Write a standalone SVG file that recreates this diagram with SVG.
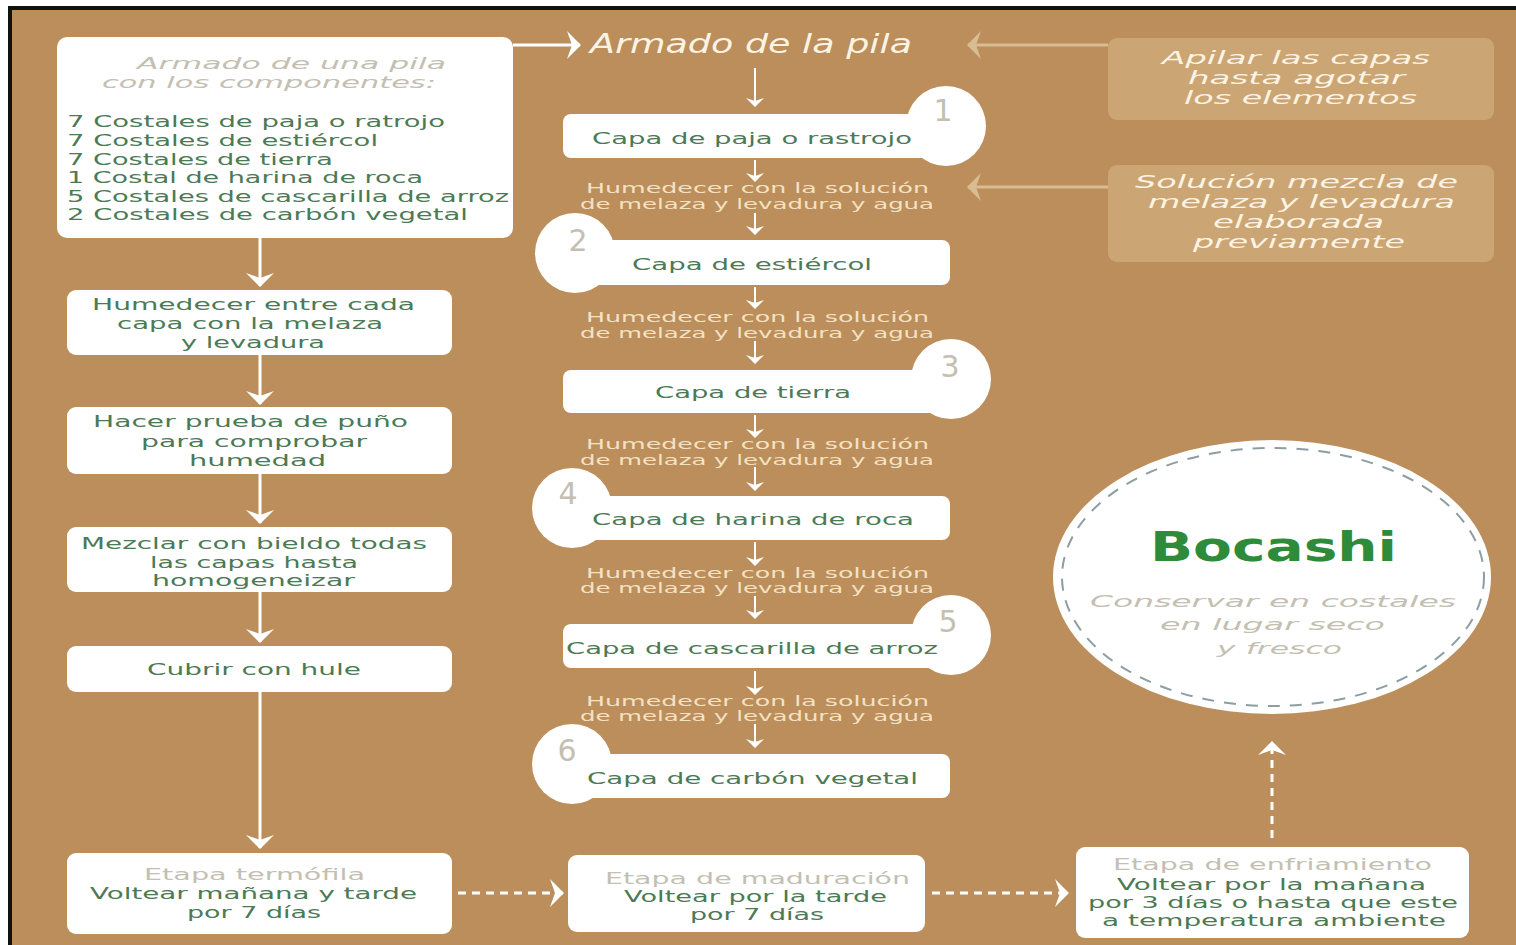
<svg xmlns="http://www.w3.org/2000/svg" width="1516" height="945" viewBox="0 0 1516 945">
<defs>
<style>
text{font-family:"DejaVu Sans","Liberation Sans",sans-serif}
.box{fill:#FFFFFF}
.g{fill:#4B7A55;font-size:16.5px}
.gb{fill:#4B7A55;font-size:15.5px}
.gt{fill:#C4BFB2;font-size:16.5px;font-style:italic}
.gs{fill:#C4BFB2;font-size:15.5px}
.hm{fill:#F3E2C4;font-size:13.5px}
.tan{fill:#CBA674}
.cr{fill:#FBF3E3;font-size:17.5px;font-style:italic}
.num{fill:#C4BFB2;font-size:30px;text-anchor:middle}
.w{stroke:#FFFFFF;stroke-width:3;fill:none}
.ws{stroke:#FFFFFF;stroke-width:2;fill:none}
.wd{stroke:#FFFFFF;stroke-width:3;fill:none;stroke-dasharray:8 6}
.tn{stroke:#D8BD92;stroke-width:3;fill:none}
</style>
<marker id="ab" viewBox="0 0 14 28" refX="13" refY="14" markerWidth="14" markerHeight="28" markerUnits="userSpaceOnUse" orient="auto">
<path d="M0,0 L14,14 L0,28 L5,14 z" fill="#FFFFFF"/>
</marker>
<marker id="as" viewBox="0 0 9 18" refX="8" refY="9" markerWidth="9" markerHeight="18" markerUnits="userSpaceOnUse" orient="auto">
<path d="M0,0 L9,9 L0,18 L3,9 z" fill="#FFFFFF"/>
</marker>
<marker id="at" viewBox="0 0 14 28" refX="13" refY="14" markerWidth="14" markerHeight="28" markerUnits="userSpaceOnUse" orient="auto">
<path d="M0,0 L14,14 L0,28 L5,14 z" fill="#D8BD92"/>
</marker>
</defs>
<rect x="0" y="0" width="1516" height="945" fill="#FFFFFF"/>
<rect x="10" y="8" width="1520" height="950" fill="#BB8E5B" stroke="#111111" stroke-width="4"/>

<g id="connectors">
<line class="w" x1="260" y1="238" x2="260" y2="286" marker-end="url(#ab)"/>
<line class="w" x1="260" y1="355" x2="260" y2="404" marker-end="url(#ab)"/>
<line class="w" x1="260" y1="474" x2="260" y2="523" marker-end="url(#ab)"/>
<line class="w" x1="260" y1="592" x2="260" y2="642" marker-end="url(#ab)"/>
<line class="w" x1="260" y1="692" x2="260" y2="848" marker-end="url(#ab)"/>
<line class="w" x1="513" y1="45" x2="580" y2="45" marker-end="url(#ab)"/>
<line class="tn" x1="1108" y1="45" x2="968" y2="45" marker-end="url(#at)"/>
<line class="tn" x1="1108" y1="187" x2="968" y2="187" marker-end="url(#at)"/>
<line class="ws" x1="755" y1="68" x2="755" y2="106" marker-end="url(#as)"/>
<line class="ws" x1="755" y1="160" x2="755" y2="181" marker-end="url(#as)"/>
<line class="ws" x1="755" y1="213" x2="755" y2="234" marker-end="url(#as)"/>
<line class="ws" x1="755" y1="287" x2="755" y2="308" marker-end="url(#as)"/>
<line class="ws" x1="755" y1="341" x2="755" y2="363" marker-end="url(#as)"/>
<line class="ws" x1="755" y1="415" x2="755" y2="437" marker-end="url(#as)"/>
<line class="ws" x1="755" y1="467" x2="755" y2="490" marker-end="url(#as)"/>
<line class="ws" x1="755" y1="542" x2="755" y2="565" marker-end="url(#as)"/>
<line class="ws" x1="755" y1="596" x2="755" y2="618" marker-end="url(#as)"/>
<line class="ws" x1="755" y1="671" x2="755" y2="694" marker-end="url(#as)"/>
<line class="ws" x1="755" y1="724" x2="755" y2="747" marker-end="url(#as)"/>
<line class="wd" x1="458" y1="893" x2="563" y2="893" marker-end="url(#ab)"/>
<line class="wd" x1="932" y1="893" x2="1068" y2="893" marker-end="url(#ab)"/>
<line class="wd" x1="1272" y1="838" x2="1272" y2="742" marker-end="url(#ab)" stroke-dasharray="8 8"/>
</g>

<g id="n-componentes">
<rect class="box" x="57" y="37" width="456" height="201" rx="10"/>
<text class="gt" x="137" y="69" textLength="309" lengthAdjust="spacingAndGlyphs">Armado de una pila</text>
<text class="gt" x="102" y="88" textLength="334" lengthAdjust="spacingAndGlyphs">con los componentes:</text>
<text class="g" x="67" y="127" textLength="378" lengthAdjust="spacingAndGlyphs">7 Costales de paja o ratrojo</text>
<text class="g" x="67" y="146" textLength="311" lengthAdjust="spacingAndGlyphs">7 Costales de estiércol</text>
<text class="g" x="67" y="165" textLength="266" lengthAdjust="spacingAndGlyphs">7 Costales de tierra</text>
<text class="g" x="67" y="183" textLength="356" lengthAdjust="spacingAndGlyphs">1 Costal de harina de roca</text>
<text class="g" x="67" y="202" textLength="442" lengthAdjust="spacingAndGlyphs">5 Costales de cascarilla de arroz</text>
<text class="g" x="67" y="220" textLength="401" lengthAdjust="spacingAndGlyphs">2 Costales de carbón vegetal</text>
</g>

<g id="n-humedecer">
<rect class="box" x="67" y="290" width="385" height="65" rx="9"/>
<text class="g" x="92" y="310" textLength="323" lengthAdjust="spacingAndGlyphs">Humedecer entre cada</text>
<text class="g" x="117" y="329" textLength="266" lengthAdjust="spacingAndGlyphs">capa con la melaza</text>
<text class="g" x="181" y="348" textLength="144" lengthAdjust="spacingAndGlyphs">y levadura</text>
</g>

<g id="n-prueba">
<rect class="box" x="67" y="407" width="385" height="67" rx="9"/>
<text class="g" x="93" y="427" textLength="315" lengthAdjust="spacingAndGlyphs">Hacer prueba de puño</text>
<text class="g" x="141" y="447" textLength="226" lengthAdjust="spacingAndGlyphs">para comprobar</text>
<text class="g" x="189" y="466" textLength="137" lengthAdjust="spacingAndGlyphs">humedad</text>
</g>

<g id="n-mezclar">
<rect class="box" x="67" y="527" width="385" height="65" rx="9"/>
<text class="g" x="81" y="549" textLength="346" lengthAdjust="spacingAndGlyphs">Mezclar con bieldo todas</text>
<text class="g" x="150" y="568" textLength="208" lengthAdjust="spacingAndGlyphs">las capas hasta</text>
<text class="g" x="152" y="586" textLength="203" lengthAdjust="spacingAndGlyphs">homogeneizar</text>
</g>

<g id="n-cubrir">
<rect class="box" x="67" y="646" width="385" height="46" rx="9"/>
<text class="g" x="147" y="675" textLength="214" lengthAdjust="spacingAndGlyphs">Cubrir con hule</text>
</g>

<g id="n-termofila">
<rect class="box" x="67" y="853" width="385" height="81" rx="9"/>
<text class="gs" x="144" y="880" textLength="221" lengthAdjust="spacingAndGlyphs">Etapa termófila</text>
<text class="gb" x="90" y="899" textLength="327" lengthAdjust="spacingAndGlyphs">Voltear mañana y tarde</text>
<text class="gb" x="187" y="918" textLength="134" lengthAdjust="spacingAndGlyphs">por 7 días</text>
</g>

<g id="n-armado-pila">
<text x="590" y="53" fill="#FBF3E3" font-size="26" font-style="italic" textLength="322" lengthAdjust="spacingAndGlyphs">Armado de la pila</text>
</g>

<g id="n-capa1">
<circle class="box" cx="946" cy="126" r="40"/>
<rect class="box" x="563" y="114" width="387" height="44" rx="8"/>
<text class="num" x="943" y="121">1</text>
<text class="g" x="592" y="144" textLength="320" lengthAdjust="spacingAndGlyphs">Capa de paja o rastrojo</text>
</g>
<g id="n-hum1">
<text class="hm" x="586" y="193" textLength="343" lengthAdjust="spacingAndGlyphs">Humedecer con la solución</text>
<text class="hm" x="580" y="209" textLength="354" lengthAdjust="spacingAndGlyphs">de melaza y levadura y agua</text>
</g>

<g id="n-capa2">
<circle class="box" cx="575" cy="253" r="40"/>
<rect class="box" x="563" y="240" width="387" height="45" rx="8"/>
<text class="num" x="578" y="251">2</text>
<text class="g" x="632" y="270" textLength="240" lengthAdjust="spacingAndGlyphs">Capa de estiércol</text>
</g>
<g id="n-hum2">
<text class="hm" x="586" y="322" textLength="343" lengthAdjust="spacingAndGlyphs">Humedecer con la solución</text>
<text class="hm" x="580" y="338" textLength="354" lengthAdjust="spacingAndGlyphs">de melaza y levadura y agua</text>
</g>

<g id="n-capa3">
<circle class="box" cx="951" cy="379" r="40"/>
<rect class="box" x="563" y="370" width="387" height="43" rx="8"/>
<text class="num" x="950" y="377">3</text>
<text class="g" x="655" y="398" textLength="196" lengthAdjust="spacingAndGlyphs">Capa de tierra</text>
</g>
<g id="n-hum3">
<text class="hm" x="586" y="449" textLength="343" lengthAdjust="spacingAndGlyphs">Humedecer con la solución</text>
<text class="hm" x="580" y="465" textLength="354" lengthAdjust="spacingAndGlyphs">de melaza y levadura y agua</text>
</g>

<g id="n-capa4">
<circle class="box" cx="572" cy="508" r="40"/>
<rect class="box" x="563" y="496" width="387" height="44" rx="8"/>
<text class="num" x="568" y="504">4</text>
<text class="g" x="592" y="525" textLength="322" lengthAdjust="spacingAndGlyphs">Capa de harina de roca</text>
</g>
<g id="n-hum4">
<text class="hm" x="586" y="578" textLength="343" lengthAdjust="spacingAndGlyphs">Humedecer con la solución</text>
<text class="hm" x="580" y="593" textLength="354" lengthAdjust="spacingAndGlyphs">de melaza y levadura y agua</text>
</g>

<g id="n-capa5">
<circle class="box" cx="951" cy="635" r="40"/>
<rect class="box" x="563" y="624" width="387" height="44" rx="8"/>
<text class="num" x="948" y="632">5</text>
<text class="g" x="566" y="654" textLength="372" lengthAdjust="spacingAndGlyphs">Capa de cascarilla de arroz</text>
</g>
<g id="n-hum5">
<text class="hm" x="586" y="706" textLength="343" lengthAdjust="spacingAndGlyphs">Humedecer con la solución</text>
<text class="hm" x="580" y="721" textLength="354" lengthAdjust="spacingAndGlyphs">de melaza y levadura y agua</text>
</g>

<g id="n-capa6">
<circle class="box" cx="572" cy="764" r="40"/>
<rect class="box" x="563" y="754" width="387" height="44" rx="8"/>
<text class="num" x="567" y="761">6</text>
<text class="g" x="587" y="784" textLength="331" lengthAdjust="spacingAndGlyphs">Capa de carbón vegetal</text>
</g>

<g id="n-apilar">
<rect class="tan" x="1108" y="38" width="386" height="82" rx="9"/>
<text class="cr" x="1162" y="64" textLength="268" lengthAdjust="spacingAndGlyphs">Apilar las capas</text>
<text class="cr" x="1188" y="84" textLength="217" lengthAdjust="spacingAndGlyphs">hasta agotar</text>
<text class="cr" x="1184" y="104" textLength="233" lengthAdjust="spacingAndGlyphs">los elementos</text>
</g>

<g id="n-solucion">
<rect class="tan" x="1108" y="165" width="386" height="97" rx="9"/>
<text class="cr" x="1135" y="188" textLength="323" lengthAdjust="spacingAndGlyphs">Solución mezcla de</text>
<text class="cr" x="1148" y="208" textLength="307" lengthAdjust="spacingAndGlyphs">melaza y levadura</text>
<text class="cr" x="1213" y="228" textLength="171" lengthAdjust="spacingAndGlyphs">elaborada</text>
<text class="cr" x="1193" y="248" textLength="212" lengthAdjust="spacingAndGlyphs">previamente</text>
</g>

<g id="n-bocashi">
<ellipse class="box" cx="1272" cy="577" rx="219" ry="137"/>
<ellipse cx="1273" cy="577" rx="211" ry="129" fill="none" stroke="#8C9EA3" stroke-width="2" stroke-dasharray="12 10"/>
<text x="1150" y="561" fill="#2E8B3A" font-size="40" font-weight="bold" textLength="247" lengthAdjust="spacingAndGlyphs">Bocashi</text>
<text class="gt" x="1090" y="607" font-size="19" textLength="366" lengthAdjust="spacingAndGlyphs">Conservar en costales</text>
<text class="gt" x="1160" y="630" font-size="19" textLength="225" lengthAdjust="spacingAndGlyphs">en lugar seco</text>
<text class="gt" x="1217" y="654" font-size="19" textLength="125" lengthAdjust="spacingAndGlyphs">y fresco</text>
</g>

<g id="n-maduracion">
<rect class="box" x="568" y="855" width="357" height="77" rx="9"/>
<text class="gs" x="605" y="884" textLength="305" lengthAdjust="spacingAndGlyphs">Etapa de maduración</text>
<text class="gb" x="624" y="902" textLength="263" lengthAdjust="spacingAndGlyphs">Voltear por la tarde</text>
<text class="gb" x="690" y="920" textLength="134" lengthAdjust="spacingAndGlyphs">por 7 días</text>
</g>

<g id="n-enfriamiento">
<rect class="box" x="1076" y="847" width="393" height="91" rx="9"/>
<text class="gs" x="1113" y="870" textLength="319" lengthAdjust="spacingAndGlyphs">Etapa de enfriamiento</text>
<text class="gb" x="1117" y="890" textLength="309" lengthAdjust="spacingAndGlyphs">Voltear por la mañana</text>
<text class="gb" x="1088" y="908" textLength="370" lengthAdjust="spacingAndGlyphs">por 3 días o hasta que este</text>
<text class="gb" x="1102" y="926" textLength="344" lengthAdjust="spacingAndGlyphs">a temperatura ambiente</text>
</g>
</svg>
